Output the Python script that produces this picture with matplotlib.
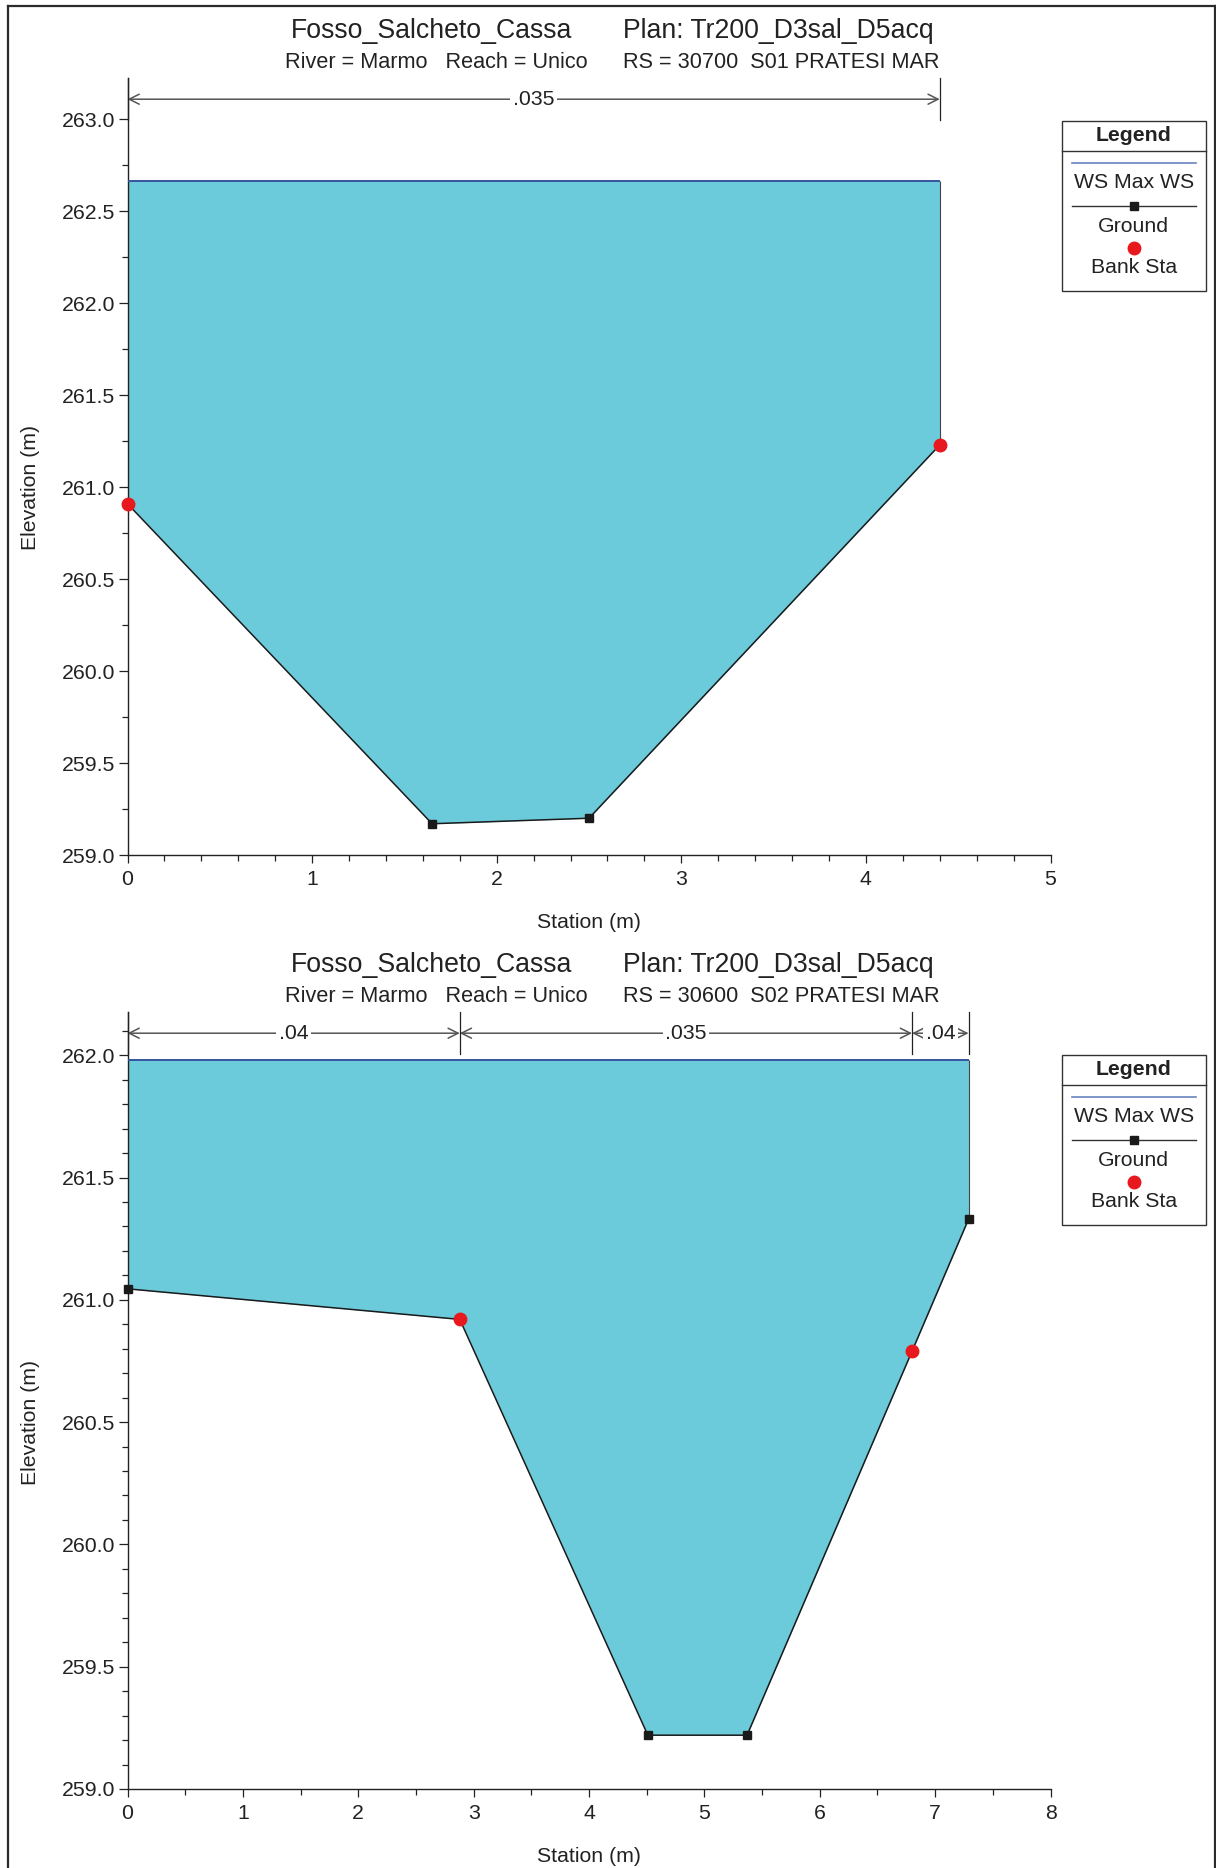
import matplotlib
matplotlib.use('Agg')
import matplotlib.pyplot as plt
from matplotlib.ticker import MultipleLocator, FormatStrFormatter
import matplotlib.transforms as mtransforms
from matplotlib.patches import Rectangle

plt.rcParams['font.family'] = ['Liberation Sans', 'DejaVu Sans']

# ---------------- data ----------------
project = "Fosso_Salcheto_Cassa"
plan = "Plan: Tr200_D3sal_D5acq"
river_reach = "River = Marmo   Reach = Unico"
rs_labels = ["RS = 30700  S01 PRATESI MAR", "RS = 30600  S02 PRATESI MAR"]

# cross section 1 (RS 30700)
sta1 = [0.0, 1.65, 2.50, 4.40]
elev1 = [260.91, 259.17, 259.20, 261.23]
ws1 = 262.665
bank_sta1 = [0.0, 4.40]
bank_elev1 = [260.91, 261.23]
n_bounds1 = [0.0, 4.40]
n_vals1 = [".035"]

# cross section 2 (RS 30600)
sta2 = [0.0, 2.88, 4.51, 5.37, 6.80, 7.29]
elev2 = [261.045, 260.92, 259.22, 259.22, 260.79, 261.33]
ws2 = 261.98
bank_sta2 = [2.88, 6.80]
bank_elev2 = [260.92, 260.79]
n_bounds2 = [0.0, 2.88, 6.80, 7.29]
n_vals2 = [".04", ".035", ".04"]

legend_labels = ["WS Max WS", "Ground", "Bank Sta"]

# ---------------- style ----------------
W, H = 1216, 1868
WATER = '#6ccbdb'
WSCOL = '#34539f'
TXT = '#222222'
GROUND = '#1a1a1a'
BANK = '#e8191e'
FS = 15.3

fig = plt.figure(figsize=(W / 100, H / 100), dpi=100)

panels = [
    dict(sta=sta1, elev=elev1, ws=ws1, bsta=bank_sta1, belev=bank_elev1,
         nb=n_bounds1, nv=n_vals1, xlim=(0, 5), ylim=(259.0, 263.227),
         xmaj=1, xmin=0.2, ymaj=0.5, ymin=0.25, rs=rs_labels[0], ytop=263.0,
         rect=[127.5 / W, 1 - 855 / H, 923 / W, 777.3 / H], dy=0),
    dict(sta=sta2, elev=elev2, ws=ws2, bsta=bank_sta2, belev=bank_elev2,
         nb=n_bounds2, nv=n_vals2, xlim=(0, 8), ylim=(259.0, 262.178),
         xmaj=1, xmin=0.5, ymaj=0.5, ymin=0.1, rs=rs_labels[1], ytop=262.0,
         rect=[127.5 / W, 1 - 1789 / H, 923 / W, 777.3 / H], dy=934),
]

for p in panels:
    ax = fig.add_axes(p['rect'])
    ax.set_xlim(*p['xlim'])
    ax.set_ylim(*p['ylim'])
    for s in ['top', 'right']:
        ax.spines[s].set_visible(False)
    for s in ['left', 'bottom']:
        ax.spines[s].set_color('#222222')
        ax.spines[s].set_linewidth(1.0)

    sta, elev, ws = p['sta'], p['elev'], p['ws']
    ax.fill_between(sta, elev, ws, color=WATER, lw=0, zorder=1)
    ax.hlines(ws, sta[0], sta[-1], color=WSCOL, lw=1.4, zorder=3)
    ax.vlines([sta[0], sta[-1]], [elev[0], elev[-1]], ws, color='#444444', lw=0.8, zorder=2)
    ax.plot(sta, elev, color=GROUND, lw=1.1, marker='s', ms=5.5, mfc=GROUND,
            mec=GROUND, zorder=4, clip_on=False)
    ax.plot(p['bsta'], p['belev'], ls='none', marker='o', ms=9, mfc=BANK,
            mec=BANK, zorder=5, clip_on=False)

    # manning's n annotations
    tr = mtransforms.blended_transform_factory(ax.transData, ax.transAxes)
    ya = 1 - 21.5 / 777.3
    for b in p['nb']:
        ax.plot([b, b], [1 - 42 / 777.3, 1.0], transform=tr, color='#222222',
                lw=0.9, clip_on=False, zorder=4)
    for i, lab in enumerate(p['nv']):
        b0, b1 = p['nb'][i], p['nb'][i + 1]
        ax.annotate('', xy=(b1, ya), xytext=(b0, ya), xycoords=tr, textcoords=tr,
                    arrowprops=dict(arrowstyle='<->,head_length=0.6,head_width=0.3',
                                    color='#555555', lw=1.1, shrinkA=0, shrinkB=0,
                                    mutation_scale=12), annotation_clip=False)
        ax.text((b0 + b1) / 2, ya, lab, transform=tr, ha='center', va='center',
                fontsize=FS, color=TXT, zorder=6,
                bbox=dict(boxstyle='square,pad=0.12', fc='white', ec='none'))

    ax.xaxis.set_major_locator(MultipleLocator(p['xmaj']))
    ax.xaxis.set_minor_locator(MultipleLocator(p['xmin']))
    ax.yaxis.set_major_locator(MultipleLocator(p['ymaj']))
    ax.yaxis.set_minor_locator(MultipleLocator(p['ymin']))
    ax.yaxis.set_major_formatter(FormatStrFormatter('%.1f'))
    ax.tick_params(axis='both', which='major', length=6.5, width=0.9,
                   color='#222222', labelsize=FS, labelcolor=TXT)
    ax.tick_params(axis='both', which='minor', length=4.2, width=0.9, color='#222222')
    ax.tick_params(axis='x', which='major', pad=5.5, length=5.5)
    ax.tick_params(axis='y', which='major', pad=2.5)

    ymid = (p['ylim'][0] + p['ytop']) / 2
    trl = mtransforms.blended_transform_factory(fig.transFigure, ax.transData)
    ax.text(31 / W, ymid, 'Elevation (m)', transform=trl, rotation=90,
            ha='center', va='center', fontsize=FS, color=TXT)
    ax.text(0.5, -68 / 777.3, 'Station (m)', transform=ax.transAxes,
            ha='center', va='center', fontsize=FS, color=TXT)

# ---------------- overlay (titles, legend, frame) ----------------
ov = fig.add_axes([0, 0, 1, 1], facecolor='none')
ov.set_xlim(0, W)
ov.set_ylim(H, 0)
ov.axis('off')

for p in panels:
    dy = p['dy']
    ov.text(432, 38.5 + dy, project, ha='center', va='baseline', fontsize=19.2, color=TXT)
    ov.text(623, 38.5 + dy, plan, ha='left', va='baseline', fontsize=19.2, color=TXT)
    ov.text(436, 67.5 + dy, river_reach, ha='center', va='baseline', fontsize=15.6, color=TXT)
    ov.text(623, 67.5 + dy, p['rs'], ha='left', va='baseline', fontsize=15.6, color=TXT)

    # legend box
    x0, x1, y0, y1 = 1061.7, 1205.7, 120.7 + dy, 290.7 + dy
    xc = (x0 + x1) / 2
    ov.add_patch(Rectangle((x0, y0), x1 - x0, y1 - y0, fill=False, ec='#333333', lw=1.0))
    ov.plot([x0, x1], [150.7 + dy, 150.7 + dy], color='#333333', lw=1.0)
    ov.text(xc, 135.5 + dy, 'Legend', ha='center', va='center', fontsize=FS,
            fontweight='bold', color=TXT)
    ov.plot([1072, 1196], [162.7 + dy, 162.7 + dy], color='#6a84c0', lw=1.2)
    ov.text(xc, 182.5 + dy, legend_labels[0], ha='center', va='center', fontsize=FS, color=TXT)
    ov.plot([1072, 1196], [206 + dy, 206 + dy], color='#333333', lw=1.0)
    ov.plot([1134], [206 + dy], marker='s', ms=5.5, color=GROUND)
    ov.text(xc, 226 + dy, legend_labels[1], ha='center', va='center', fontsize=FS, color=TXT)
    ov.plot([1134], [247.7 + dy], marker='o', ms=9, color=BANK)
    ov.text(xc, 267.5 + dy, legend_labels[2], ha='center', va='center', fontsize=FS, color=TXT)

# outer frame
ov.plot([8, 1215], [6, 6], color='#2b2b2b', lw=1.6, solid_capstyle='projecting')
ov.plot([8, 8], [6, H], color='#2b2b2b', lw=1.6)
ov.plot([1215, 1215], [6, H], color='#2b2b2b', lw=1.6)

fig.savefig('out.png', dpi=100)
